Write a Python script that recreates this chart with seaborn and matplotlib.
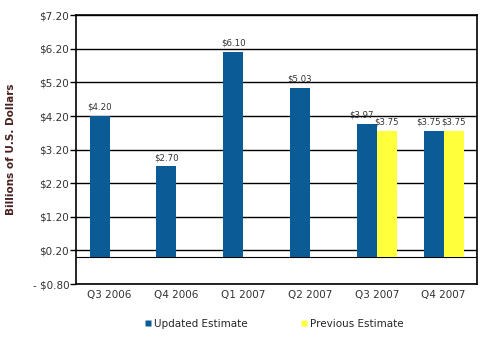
import matplotlib
matplotlib.use("Agg")
import matplotlib.pyplot as plt
import seaborn as sns
import pandas as pd
import numpy as np
from matplotlib.lines import Line2D

quarters = ["Q3 2006", "Q4 2006", "Q1 2007", "Q2 2007", "Q3 2007", "Q4 2007"]
updated = [4.20, 2.70, 6.10, 5.03, 3.97, 3.75]
previous = [np.nan, np.nan, np.nan, np.nan, 3.75, 3.75]
series_names = ["Updated Estimate", "Previous Estimate"]
colors = ["#0b5b96", "#ffff3c"]
yticks = [-0.80, 0.20, 1.20, 2.20, 3.20, 4.20, 5.20, 6.20, 7.20]

df = pd.DataFrame({
    "Quarter": quarters * 2,
    "Series": [series_names[0]] * len(quarters) + [series_names[1]] * len(quarters),
    "Value": updated + previous,
})

sns.set_style("white")
plt.rcParams["font.family"] = ["DejaVu Sans"]

fig = plt.figure(figsize=(4.98, 3.37), dpi=100)
ax = fig.add_axes([0.153, 0.157, 0.805, 0.798])

sns.barplot(data=df, x="Quarter", y="Value", hue="Series", order=quarters,
            hue_order=series_names, palette=colors, width=0.6, saturation=1,
            ax=ax, legend=False, linewidth=0)

ax.set_ylim(-0.8, 7.2)
ax.set_yticks(yticks)
ax.set_yticklabels(["- $0.80" if v < 0 else f"${v:.2f}" for v in yticks],
                   fontsize=7.5, color="#333333")
for v in yticks:
    ax.axhline(v, color="black", lw=1.0, zorder=0)
ax.axhline(0, color="black", lw=0.8, zorder=0)
ax.set_xlim(-0.5, len(quarters) - 0.5)
ax.tick_params(axis="x", labelsize=7.5, colors="#333333", length=0, pad=4)
ax.tick_params(axis="y", length=4, width=1, color="black", direction="out", pad=1, left=True)
ax.set_xlabel("")
ax.set_ylabel("Billions of U.S. Dollars", fontsize=7.5, color="#4a2020", fontweight="bold", labelpad=12)
for s in ax.spines.values():
    s.set_color("black")
    s.set_linewidth(1.2)

n = len(quarters)
for ci, cont in enumerate(ax.containers):
    for qi, bar in enumerate(cont):
        h = bar.get_height()
        if np.isnan(h):
            continue
        dx = 0
        if qi >= 4:
            dx = -4 if ci == 0 else 4
        ax.annotate(f"${h:.2f}", (bar.get_x() + bar.get_width() / 2, h),
                    xytext=(dx, 3), textcoords="offset points",
                    ha="center", va="bottom", fontsize=6.2, color="#333333")

handles = [Line2D([0], [0], marker="s", color="none", markerfacecolor=c,
                  markeredgecolor="none", markersize=5) for c in colors]
fig.legend(handles, series_names, loc="center", bbox_to_anchor=(0.55, 0.04),
           ncol=2, frameon=False, fontsize=7.5, handletextpad=0.2,
           columnspacing=5, handlelength=0.8)

fig.savefig("out.png", dpi=100)
